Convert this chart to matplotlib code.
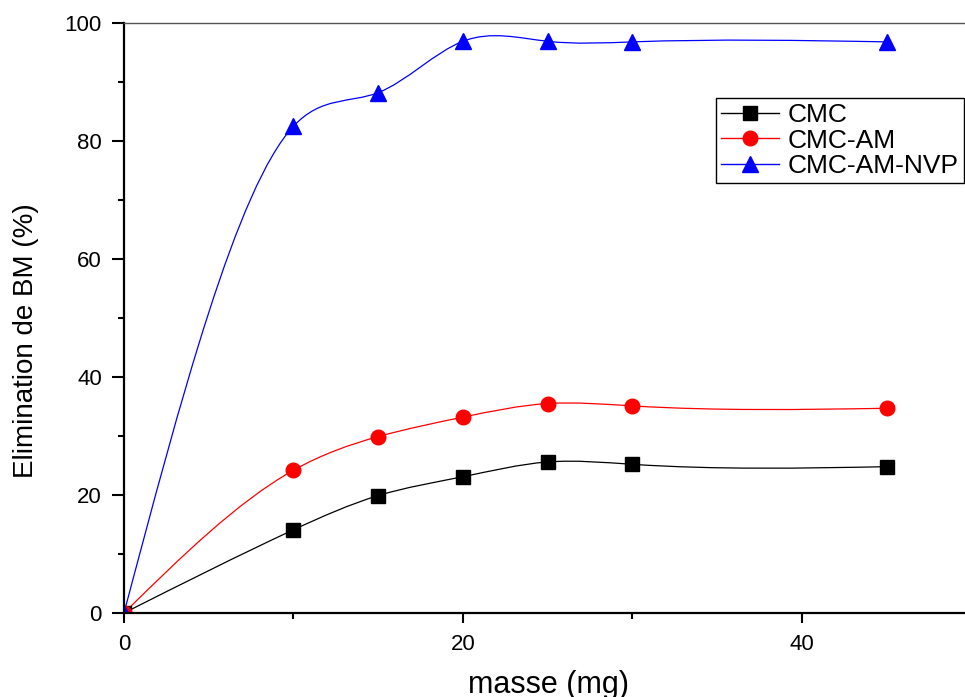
import numpy as np
import matplotlib.pyplot as plt
from matplotlib.path import Path
from matplotlib.patches import PathPatch
from matplotlib.lines import Line2D
from matplotlib.ticker import MultipleLocator

plt.rcParams['font.family'] = ['Liberation Sans', 'DejaVu Sans']

masse = [0, 10, 15, 20, 25, 30, 45]
cmc = [0, 14.1, 19.9, 23.1, 25.6, 25.2, 24.8]
cmc_am = [0, 24.2, 29.9, 33.2, 35.5, 35.1, 34.7]
cmc_am_nvp = [0, 82.5, 88.2, 96.9, 96.9, 96.8, 96.8]

noms = ['CMC', 'CMC-AM', 'CMC-AM-NVP']
couleurs = ['black', 'red', 'blue']
marqueurs = ['s', 'o', '^']
tailles = [9.5, 10.5, 11.5]


def chemin_spline(x, y):
    # spline cubique naturelle, tracée comme courbes de Bézier
    x = np.asarray(x, float)
    y = np.asarray(y, float)
    n = len(x) - 1
    h = np.diff(x)
    A = np.zeros((n + 1, n + 1))
    b = np.zeros(n + 1)
    A[0, 0] = 1
    A[n, n] = 1
    for i in range(1, n):
        A[i, i - 1] = h[i - 1]
        A[i, i] = 2 * (h[i - 1] + h[i])
        A[i, i + 1] = h[i]
        b[i] = 6 * ((y[i + 1] - y[i]) / h[i] - (y[i] - y[i - 1]) / h[i - 1])
    M = np.linalg.solve(A, b)
    m = np.zeros(n + 1)
    for i in range(n):
        m[i] = (y[i + 1] - y[i]) / h[i] - h[i] * (2 * M[i] + M[i + 1]) / 6
    m[n] = (y[n] - y[n - 1]) / h[n - 1] + h[n - 1] * (M[n - 1] + 2 * M[n]) / 6
    verts = [(x[0], y[0])]
    codes = [Path.MOVETO]
    for i in range(n):
        verts += [(x[i] + h[i] / 3, y[i] + m[i] * h[i] / 3),
                  (x[i + 1] - h[i] / 3, y[i + 1] - m[i + 1] * h[i] / 3),
                  (x[i + 1], y[i + 1])]
        codes += [Path.CURVE4] * 3
    return Path(verts, codes)


fig = plt.figure(figsize=(9.65, 6.97), dpi=100)
ax = fig.add_axes([0.1285, 0.1205, 0.878, 0.8465])

poignees = []
for serie, nom, c, mk, ms in zip([cmc, cmc_am, cmc_am_nvp], noms, couleurs, marqueurs, tailles):
    ax.add_patch(PathPatch(chemin_spline(masse, serie), fill=False, edgecolor=c, lw=0.9))
    ax.plot(masse, serie, ls='none', marker=mk, ms=ms, color=c, mec=c)
    poignees.append(Line2D([], [], color=c, lw=1.0, marker=mk, ms=ms, mec=c))

ax.set_xlim(0, 50)
ax.set_ylim(0, 100)
ax.xaxis.set_major_locator(MultipleLocator(20))
ax.xaxis.set_minor_locator(MultipleLocator(10))
ax.yaxis.set_major_locator(MultipleLocator(20))
ax.yaxis.set_minor_locator(MultipleLocator(10))

ax.spines['right'].set_visible(False)
ax.spines['top'].set_color('#555555')
ax.spines['top'].set_linewidth(1.0)
ax.spines['left'].set_linewidth(1.6)
ax.spines['bottom'].set_linewidth(1.6)

ax.tick_params(axis='y', which='major', direction='out', length=9, width=1.5, pad=7, labelsize=16)
ax.tick_params(axis='y', which='minor', direction='out', length=4.5, width=1.5)
ax.tick_params(axis='x', which='major', direction='out', length=7, width=1.5, pad=8, labelsize=16)
ax.tick_params(axis='x', which='minor', direction='out', length=4, width=1.5)

ax.set_xlabel('masse (mg)', fontsize=22)
ax.xaxis.label.set_va('baseline')
ax.xaxis.set_label_coords(0.501, -0.1356)
ax.set_ylabel('Elimination de BM (%)', fontsize=20)
ax.yaxis.set_label_coords(-0.100, 0.461)

leg = ax.legend(poignees, noms, loc='upper right', bbox_to_anchor=(0.991, 0.873),
                borderaxespad=0, fontsize=19, frameon=True, fancybox=False,
                edgecolor='black', framealpha=1, handlelength=2.2,
                labelspacing=0.05, handletextpad=0.3, borderpad=0.2)
leg.get_frame().set_linewidth(1.0)

plt.savefig('out.png', dpi=100)
